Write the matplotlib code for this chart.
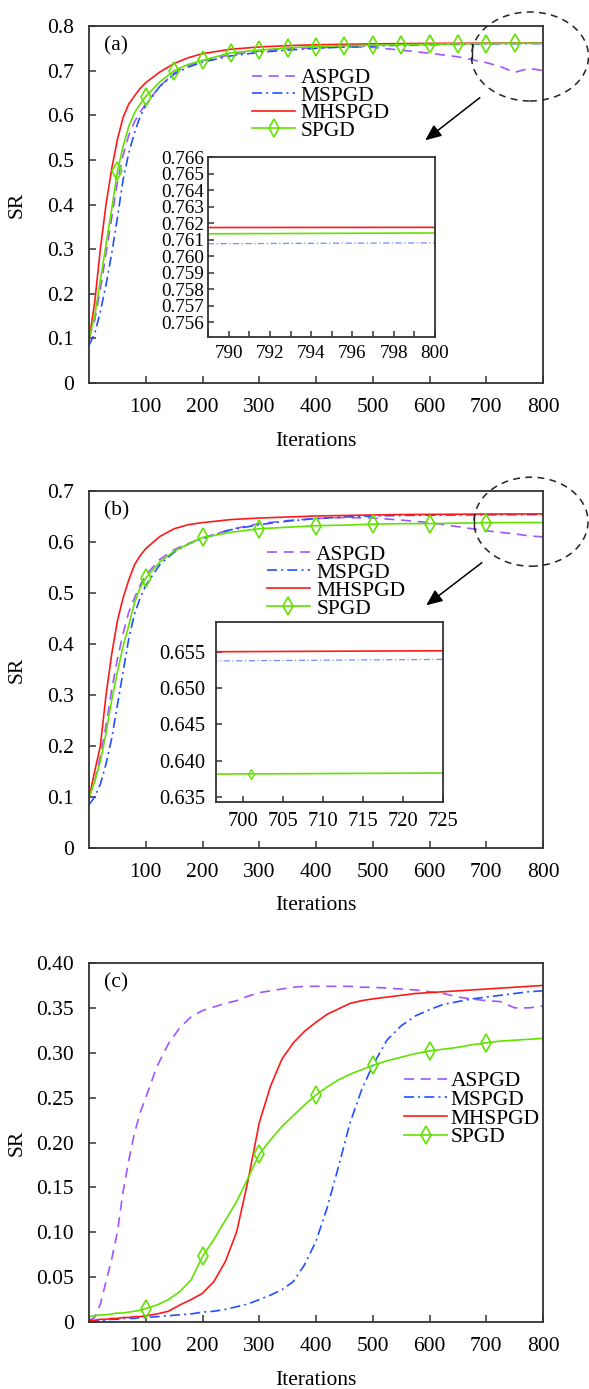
import numpy as np
import matplotlib
matplotlib.use("Agg")
import matplotlib.pyplot as plt
from matplotlib.patches import Ellipse, FancyArrowPatch
from matplotlib.lines import Line2D

plt.rcParams['font.family'] = ['Liberation Serif', 'DejaVu Serif']
plt.rcParams['mathtext.fontset'] = 'stix'

# ---------------- data ----------------
series_names = ['ASPGD', 'MSPGD', 'MHSPGD', 'SPGD']
x_ticks = [100, 200, 300, 400, 500, 600, 700, 800]

# panel (a)
a_iter = [0, 10, 20, 30, 40, 50, 60, 70, 80, 90, 100, 125, 150, 175, 200, 250, 300, 350,
          400, 450, 500, 550, 600, 650, 700, 725, 750, 775, 800]
a_aspgd = [0.100, 0.140, 0.210, 0.290, 0.370, 0.450, 0.510, 0.555, 0.585, 0.607, 0.625, 0.665,
           0.695, 0.712, 0.722, 0.736, 0.744, 0.749, 0.751, 0.753, 0.752, 0.746, 0.739, 0.731,
           0.718, 0.709, 0.696, 0.705, 0.700]
a_mspgd = [0.085, 0.110, 0.160, 0.220, 0.290, 0.370, 0.455, 0.515, 0.560, 0.597, 0.622, 0.665,
           0.692, 0.708, 0.719, 0.733, 0.741, 0.746, 0.750, 0.753, 0.755, 0.757, 0.758, 0.759,
           0.7600, 0.7602, 0.7604, 0.7606, 0.7607]
a_mhspgd = [0.096, 0.180, 0.300, 0.400, 0.480, 0.545, 0.595, 0.625, 0.643, 0.660, 0.673, 0.697,
            0.716, 0.729, 0.738, 0.748, 0.753, 0.756, 0.758, 0.759, 0.760, 0.7605, 0.7610,
            0.7613, 0.7615, 0.7616, 0.7616, 0.7617, 0.7617]
a_spgd = [0.100, 0.150, 0.230, 0.310, 0.390, 0.474, 0.530, 0.575, 0.605, 0.625, 0.642, 0.675,
          0.700, 0.714, 0.723, 0.740, 0.746, 0.751, 0.754, 0.756, 0.757, 0.758, 0.759, 0.760,
          0.7607, 0.7609, 0.7611, 0.7613, 0.7614]
a_yticks = [0, 0.1, 0.2, 0.3, 0.4, 0.5, 0.6, 0.7, 0.8]
a_yticklabels = ['0', '0.1', '0.2', '0.3', '0.4', '0.5', '0.6', '0.7', '0.8']

# inset (a)
a_in_iter = [789, 800]
a_in_mspgd = [0.76075, 0.76080]
a_in_mhspgd = [0.76173, 0.76174]
a_in_spgd = [0.76135, 0.76140]
a_in_yticks = [0.756, 0.757, 0.758, 0.759, 0.760, 0.761, 0.762, 0.763, 0.764, 0.765, 0.766]
a_in_xticks = [790, 792, 794, 796, 798, 800]

# panel (b)
b_iter = a_iter
b_aspgd = [0.100, 0.130, 0.180, 0.240, 0.310, 0.370, 0.420, 0.462, 0.490, 0.515, 0.535, 0.566,
           0.585, 0.597, 0.608, 0.625, 0.636, 0.642, 0.646, 0.648, 0.647, 0.643, 0.638, 0.630,
           0.622, 0.619, 0.616, 0.612, 0.610]
b_mspgd = [0.085, 0.100, 0.125, 0.165, 0.215, 0.280, 0.345, 0.410, 0.458, 0.490, 0.515, 0.556,
           0.580, 0.596, 0.607, 0.624, 0.634, 0.641, 0.646, 0.649, 0.651, 0.652, 0.6525, 0.653,
           0.6533, 0.6535, 0.6535, 0.6536, 0.6538]
b_mhspgd = [0.098, 0.150, 0.200, 0.300, 0.380, 0.445, 0.490, 0.525, 0.555, 0.573, 0.587, 0.611,
            0.626, 0.634, 0.638, 0.644, 0.647, 0.649, 0.651, 0.652, 0.653, 0.6538, 0.6542,
            0.6545, 0.6548, 0.6549, 0.6549, 0.6550, 0.6551]
b_spgd = [0.100, 0.130, 0.170, 0.225, 0.290, 0.345, 0.395, 0.436, 0.480, 0.510, 0.529, 0.561,
          0.582, 0.596, 0.609, 0.619, 0.626, 0.629, 0.632, 0.633, 0.635, 0.636, 0.636, 0.637,
          0.6378, 0.6380, 0.6381, 0.6381, 0.6382]
b_yticks = [0, 0.1, 0.2, 0.3, 0.4, 0.5, 0.6, 0.7]
b_yticklabels = ['0', '0.1', '0.2', '0.3', '0.4', '0.5', '0.6', '0.7']

# inset (b)
b_in_iter = [696, 725]
b_in_mspgd = [0.65373, 0.65395]
b_in_mhspgd = [0.65500, 0.65514]
b_in_spgd = [0.63815, 0.63829]
b_in_marker_iter = [701]
b_in_marker_val = [0.63816]
b_in_yticks = [0.635, 0.640, 0.645, 0.650, 0.655]
b_in_xticks = [700, 705, 710, 715, 720, 725]

# panel (c)
c_iter = [0, 10, 20, 30, 40, 50, 60, 70, 80, 90, 100, 120, 140, 160, 180, 200, 220, 240, 260,
          280, 300, 320, 340, 360, 380, 400, 420, 440, 460, 480, 500, 525, 550, 575, 600, 625,
          650, 675, 700, 725, 750, 775, 800]
c_aspgd = [0.002, 0.005, 0.020, 0.045, 0.070, 0.100, 0.145, 0.180, 0.210, 0.233, 0.250, 0.285,
           0.310, 0.328, 0.340, 0.347, 0.351, 0.355, 0.358, 0.363, 0.367, 0.369, 0.371, 0.373,
           0.374, 0.374, 0.374, 0.374, 0.374, 0.373, 0.373, 0.372, 0.371, 0.370, 0.368, 0.366,
           0.362, 0.360, 0.358, 0.357, 0.350, 0.350, 0.352]
c_mspgd = [0.001, 0.001, 0.002, 0.002, 0.003, 0.003, 0.004, 0.004, 0.004, 0.005, 0.005, 0.006,
           0.007, 0.008, 0.009, 0.011, 0.012, 0.014, 0.017, 0.020, 0.025, 0.030, 0.036, 0.045,
           0.064, 0.090, 0.128, 0.174, 0.222, 0.258, 0.286, 0.314, 0.330, 0.341, 0.348, 0.354,
           0.357, 0.360, 0.362, 0.364, 0.366, 0.368, 0.369]
c_mhspgd = [0.002, 0.002, 0.003, 0.003, 0.004, 0.004, 0.005, 0.005, 0.006, 0.006, 0.007, 0.009,
            0.012, 0.019, 0.025, 0.032, 0.045, 0.067, 0.100, 0.157, 0.222, 0.263, 0.293, 0.311,
            0.324, 0.334, 0.343, 0.349, 0.355, 0.358, 0.360, 0.362, 0.364, 0.366, 0.367, 0.368,
            0.369, 0.370, 0.371, 0.372, 0.373, 0.374, 0.375]
c_spgd = [0.006, 0.007, 0.008, 0.008, 0.009, 0.010, 0.010, 0.011, 0.012, 0.013, 0.015, 0.019,
          0.025, 0.034, 0.047, 0.073, 0.092, 0.113, 0.134, 0.160, 0.187, 0.203, 0.218, 0.230,
          0.242, 0.253, 0.262, 0.270, 0.276, 0.281, 0.286, 0.291, 0.295, 0.299, 0.302, 0.304,
          0.306, 0.309, 0.311, 0.313, 0.314, 0.315, 0.316]
c_yticks = [0, 0.05, 0.10, 0.15, 0.20, 0.25, 0.30, 0.35, 0.40]
c_yticklabels = ['0', '0.05', '0.10', '0.15', '0.20', '0.25', '0.30', '0.35', '0.40']

# ---------------- styles ----------------
C_ASP = '#A055FF'
C_MSP = '#2050FF'
C_MH = '#FF1A1A'
C_SP = '#62E200'
SP_ASP = dict(color=C_ASP, lw=1.2, linestyle=(0, (6, 4)))
SP_MSP = dict(color=C_MSP, lw=1.2, linestyle=(0, (6, 2.5, 1.2, 2.5)))
SP_MH = dict(color=C_MH, lw=1.2, linestyle='-')
SP_SP = dict(color=C_SP, lw=1.2, linestyle='-', marker='d', ms=9, mfc='none', mec=C_SP, mew=1.2)

W, H = 589.0, 1389.0
FS = 15.5
SPINE = '#333333'

fig = plt.figure(figsize=(W / 100, H / 100), dpi=100)


def px_axes(l, t, r, b):
    return fig.add_axes([l / W, 1 - b / H, (r - l) / W, (b - t) / H])


def style_axes(ax, fs, pad, tlen):
    for s in ax.spines.values():
        s.set_color(SPINE)
        s.set_linewidth(1.3)
    ax.tick_params(axis='both', which='both', direction='in', top=False, right=False,
                   labelsize=fs, pad=pad, length=tlen, width=1.1, color=SPINE)


def main_panel(ax, it, asp, msp, mh, sp, mark_step, yticks, ylabels, ymax, tag, leg_xy, htp, lsp):
    ax.plot(it, asp, **SP_ASP, label='ASPGD')
    ax.plot(it, msp, **SP_MSP, label='MSPGD')
    ax.plot(it, mh, **SP_MH, label='MHSPGD')
    marks = [i for i, v in enumerate(it) if v % mark_step == 0 and 0 < v < 800]
    ax.plot(it, sp, **SP_SP, markevery=marks, label='SPGD')
    ax.set_xlim(0, 800)
    ax.set_ylim(0, ymax)
    ax.set_xticks(x_ticks)
    ax.set_yticks(yticks)
    ax.set_yticklabels(ylabels)
    style_axes(ax, FS, 11, 5)
    ax.set_xlabel('Iterations', fontsize=FS, va='center')
    ax.set_ylabel('SR', fontsize=FS, ha='center', va='center')
    ax.xaxis.set_label_coords(0.5, -58 / 357)
    ax.yaxis.set_label_coords(-0.158, 0.5)
    ax.text(0.033, 0.944, tag, transform=ax.transAxes, fontsize=FS, va='center', ha='left')
    ax.legend(loc='upper left', bbox_to_anchor=leg_xy, frameon=False, fontsize=FS,
              handlelength=2.0, handletextpad=htp, labelspacing=lsp, borderpad=0,
              borderaxespad=0)


# panel (a)
axa = px_axes(89, 26, 543, 383)
main_panel(axa, a_iter, a_aspgd, a_mspgd, a_mhspgd, a_spgd, 50, a_yticks, a_yticklabels,
           0.8, '(a)', (0.359, 0.882), 0.27, -0.12)

# panel (b)
axb = px_axes(89, 491, 543, 848)
main_panel(axb, b_iter, b_aspgd, b_mspgd, b_mhspgd, b_spgd, 100, b_yticks, b_yticklabels,
           0.7, '(b)', (0.392, 0.849), 0.29, -0.10)

# panel (c)
axc = px_axes(89, 963, 543, 1322)
main_panel(axc, c_iter, c_aspgd, c_mspgd, c_mhspgd, c_spgd, 100, c_yticks, c_yticklabels,
           0.40, '(c)', (0.694, 0.699), 0.17, -0.06)

# inset (a)
ia = px_axes(208, 157, 435, 337)
ia.plot(a_in_iter, a_in_mspgd, color='#6F8FFF', lw=0.9, linestyle=(0, (5, 2, 1, 2)))
ia.plot(a_in_iter, a_in_mhspgd, color=C_MH, lw=1.2)
ia.plot(a_in_iter, a_in_spgd, color=C_SP, lw=1.2)
ia.set_xlim(789, 800)
ia.set_ylim(0.7551, 0.766)
ia.set_yticks(a_in_yticks)
ia.set_yticklabels(['%.3f' % v for v in a_in_yticks])
ia.set_xticks(a_in_xticks)
ia.set_xticks(list(range(789, 801)), minor=True)
style_axes(ia, 13.8, 3, 4)
ia.tick_params(which='minor', length=4)
ia.tick_params(axis='x', pad=6)

# inset (b)
ib = px_axes(216, 622, 443, 802)
ib.plot(b_in_iter, b_in_mspgd, color='#6F8FFF', lw=0.9, linestyle=(0, (5, 2, 1, 2)))
ib.plot(b_in_iter, b_in_mhspgd, color=C_MH, lw=1.2)
ib.plot(b_in_iter, b_in_spgd, color=C_SP, lw=1.2)
ib.plot(b_in_marker_iter, b_in_marker_val, linestyle='none', marker='d', ms=5,
        mfc='none', mec=C_SP, mew=1.0)
ib.set_xlim(696.6, 725)
ib.set_ylim(0.6343, 0.6591)
ib.set_yticks(b_in_yticks)
ib.set_yticklabels(['%.3f' % v for v in b_in_yticks])
ib.set_xticks(b_in_xticks)
style_axes(ib, 14.8, 8, 4)
ib.tick_params(axis='x', pad=7)


# ellipses, arrows, small marks (figure pixel coordinates)
def fx(x):
    return x / W


def fy(y):
    return 1 - y / H


for cx, cy, w, h in [(530, 56.5, 117, 89), (531, 521.7, 114, 89)]:
    fig.add_artist(Ellipse((fx(cx), fy(cy)), w / W, h / H, transform=fig.transFigure,
                           fill=False, edgecolor='#222222', lw=1.1, linestyle=(0, (4.5, 3.5))))

for (x0, y0), (x1, y1) in [((482, 96), (423, 142)), ((484, 561), (424, 607))]:
    fig.add_artist(FancyArrowPatch((fx(x0), fy(y0)), (fx(x1), fy(y1)), transform=fig.transFigure,
                                   arrowstyle='-|>,head_length=0.7,head_width=0.3',
                                   mutation_scale=14, lw=1.1, color='black'))

for x, y0, y1 in [(472, 44, 58), (474, 517, 525)]:
    fig.add_artist(Line2D([fx(x), fx(x)], [fy(y0), fy(y1)], transform=fig.transFigure,
                          color='#222222', lw=1.0))

fig.savefig('out.png', dpi=100)
